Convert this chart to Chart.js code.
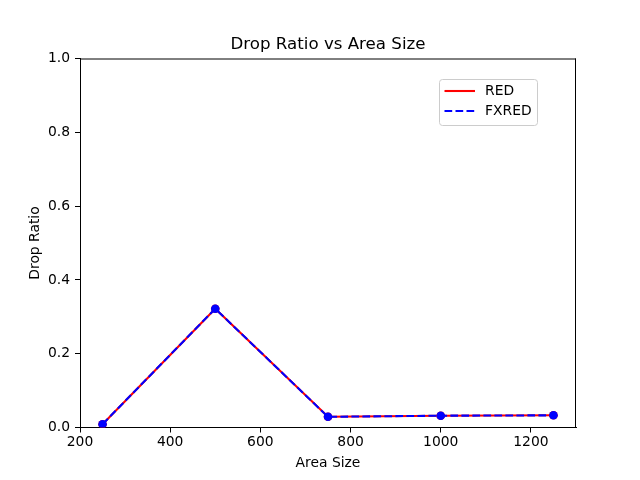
<!DOCTYPE html>
<html>
<head>
<meta charset="utf-8">
<script src="https://cdn.jsdelivr.net/npm/chart.js@4"></script>
<style>
html,body{margin:0;padding:0;background:#fff;}
#wrap{width:640px;height:480px;position:relative;}
</style>
</head>
<body>
<div id="wrap"><canvas id="c" width="640" height="480"></canvas></div>
<script>
const areaSizes = [250, 500, 750, 1000, 1250];
const redValues = [0.009, 0.322, 0.029, 0.032, 0.033];
const fxredValues = [0.009, 0.322, 0.029, 0.032, 0.033];
const seriesLabels = ['RED', 'FXRED'];
const xTickValues = [200, 400, 600, 800, 1000, 1200];
const chartTitle = 'Drop Ratio vs Area Size';
const xLabel = 'Area Size';
const yLabel = 'Drop Ratio';

const FONT = "'DejaVu Sans', sans-serif";
const FS = 13.89;

const legendPlugin = {
  id: 'mplLegend',
  afterDraw(chart) {
    const ctx = chart.ctx;
    const x0 = 439.5, y0 = 79.5, w = 98, h = 46, r = 3;
    ctx.save();
    ctx.beginPath();
    ctx.moveTo(x0 + r, y0);
    ctx.lineTo(x0 + w - r, y0);
    ctx.quadraticCurveTo(x0 + w, y0, x0 + w, y0 + r);
    ctx.lineTo(x0 + w, y0 + h - r);
    ctx.quadraticCurveTo(x0 + w, y0 + h, x0 + w - r, y0 + h);
    ctx.lineTo(x0 + r, y0 + h);
    ctx.quadraticCurveTo(x0, y0 + h, x0, y0 + h - r);
    ctx.lineTo(x0, y0 + r);
    ctx.quadraticCurveTo(x0, y0, x0 + r, y0);
    ctx.closePath();
    ctx.fillStyle = 'rgba(255,255,255,0.8)';
    ctx.fill();
    ctx.strokeStyle = '#cccccc';
    ctx.lineWidth = 1;
    ctx.stroke();
    const ds = chart.data.datasets;
    const rows = [91, 111];
    ds.forEach((d, i) => {
      ctx.beginPath();
      ctx.setLineDash(d.borderDash || []);
      ctx.strokeStyle = d.borderColor;
      ctx.lineWidth = 2.08;
      ctx.moveTo(444.5, rows[i]);
      ctx.lineTo(475, rows[i]);
      ctx.stroke();
      ctx.setLineDash([]);
      ctx.fillStyle = '#000';
      ctx.font = FS + 'px ' + FONT;
      ctx.textBaseline = 'middle';
      ctx.textAlign = 'left';
      ctx.fillText(d.label, 485, rows[i] + 0.5);
    });
    ctx.restore();
  }
};

new Chart(document.getElementById('c'), {
  type: 'line',
  data: {
    datasets: [
      {
        label: seriesLabels[0],
        data: areaSizes.map((x, i) => ({x: x, y: redValues[i]})),
        borderColor: '#ff0000',
        backgroundColor: '#ff0000',
        borderWidth: 2.08,
        pointRadius: 4.3,
        pointBorderWidth: 0,
        pointBackgroundColor: '#ff0000',
        fill: false,
        tension: 0,
        order: 2
      },
      {
        label: seriesLabels[1],
        data: areaSizes.map((x, i) => ({x: x, y: fxredValues[i]})),
        borderColor: '#0000ff',
        backgroundColor: '#0000ff',
        borderWidth: 2.08,
        borderDash: [7.7, 3.3],
        pointRadius: 4.3,
        pointBorderWidth: 0,
        pointBackgroundColor: '#0000ff',
        fill: false,
        tension: 0,
        order: 1
      }
    ]
  },
  options: {
    responsive: false,
    animation: false,
    events: [],
    layout: {padding: {left: 0, right: 64, top: 0, bottom: 0}},
    plugins: {
      legend: {display: false},
      tooltip: {enabled: false},
      title: {
        display: true,
        fullSize: false,
        text: chartTitle,
        color: '#000',
        font: {family: FONT, size: 16.67, weight: 'normal'},
        padding: {top: 34.5, bottom: 4}
      }
    },
    scales: {
      x: {
        type: 'linear',
        min: 200, max: 1300,
        afterFit(s) { s.height = 52.5; },
        afterBuildTicks(s) { s.ticks = xTickValues.map(v => ({value: v})); },
        border: {display: true, color: '#000', width: 1},
        grid: {display: true, drawOnChartArea: false, drawTicks: true, tickLength: 5, color: '#000'},
        ticks: {autoSkip: false, color: '#000', font: {family: FONT, size: FS}, padding: 2, maxRotation: 0,
          callback: v => String(v)},
        title: {display: true, text: xLabel, color: '#000', font: {family: FONT, size: FS}, padding: {top: 0, bottom: 8}}
      },
      y: {
        type: 'linear',
        min: 0, max: 1,
        afterFit(s) { s.width = 80; },
        border: {display: true, color: '#000', width: 1},
        grid: {display: true, drawOnChartArea: false, drawTicks: true, tickLength: 5, color: '#000'},
        ticks: {stepSize: 0.2, color: '#000', font: {family: FONT, size: FS}, padding: 5,
          callback: v => Number(v).toFixed(1)},
        title: {display: true, text: yLabel, color: '#000', font: {family: FONT, size: FS}, padding: {top: 27, bottom: 0}}
      }
    }
  },
  plugins: [legendPlugin, {
    id: 'frame',
    afterDraw(chart) {
      const a = chart.chartArea, ctx = chart.ctx;
      ctx.save();
      ctx.strokeStyle = '#000';
      ctx.lineWidth = 1;
      ctx.beginPath();
      ctx.moveTo(a.left, a.top + 0.5);
      ctx.lineTo(a.right, a.top + 0.5);
      ctx.moveTo(a.right - 0.5, a.top);
      ctx.lineTo(a.right - 0.5, a.bottom);
      ctx.stroke();
      ctx.restore();
    }
  }]
});
</script>
</body>
</html>
